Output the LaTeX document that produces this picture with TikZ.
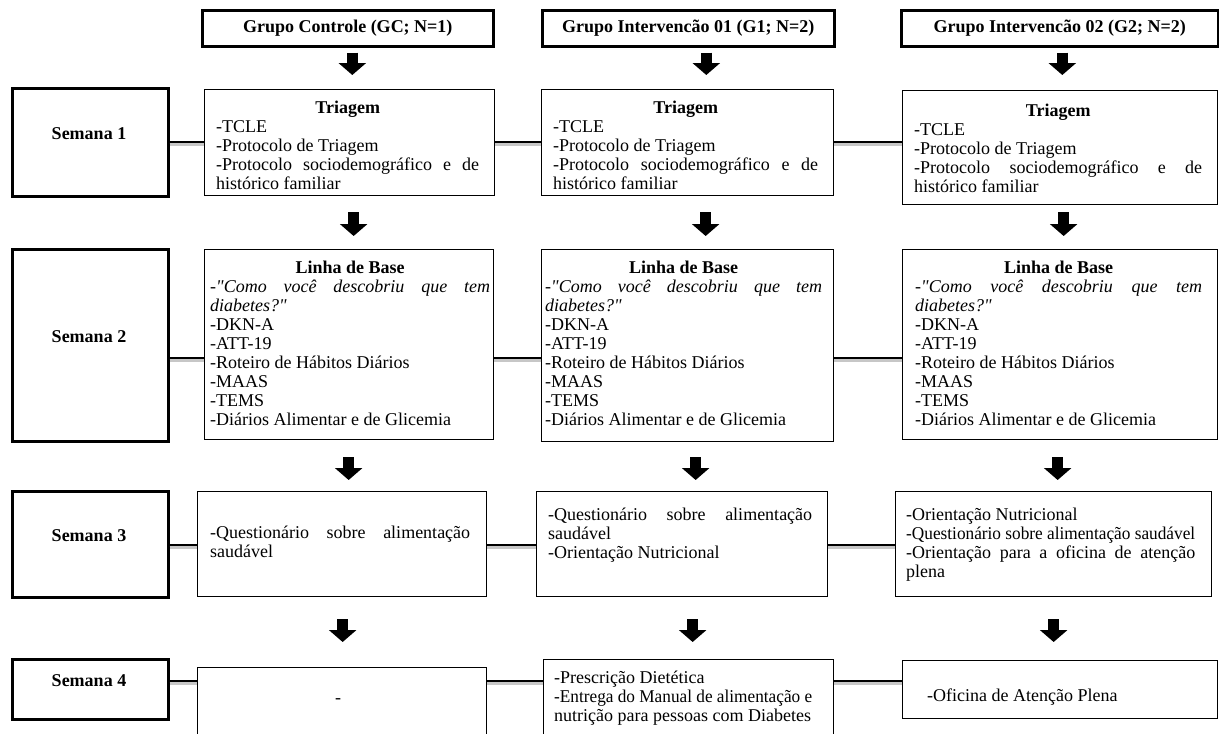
\documentclass[tikz,border=0pt]{standalone}
\usepackage{fontspec}
\usepackage{graphicx}
\setmainfont{Liberation Serif}
\newfontfamily\qfam{Liberation Serif}
\newcommand\dq{{\qfam\itshape"}}
\usetikzlibrary{arrows.meta,calc}
\newsavebox\jlbox
\newcommand\jline[1]{\sbox\jlbox{#1}\ifdim\wd\jlbox>\linewidth\resizebox{\linewidth}{\height}{#1}\else\makebox[\linewidth][s]{#1}\fi\par}
\newcommand\nline[1]{\sbox\jlbox{#1}\ifdim\wd\jlbox>\linewidth\resizebox{\linewidth}{\height}{#1}\else\mbox{#1}\fi\par}
\newcommand\ttl[1]{{\centering\textbf{#1}\par}}
\tikzset{
  hbox/.style={draw, line width=2.6pt, inner sep=0pt, anchor=north west, font=\bfseries\fontsize{18}{19}\selectfont},
  wbox/.style={draw, line width=2.6pt, inner sep=0pt, anchor=north west},
  cbox/.style={draw, line width=1.3pt, inner sep=0pt, anchor=north west, font=\fontsize{18}{19}\selectfont},
  txt/.style={anchor=base west, inner sep=0pt, font=\fontsize{18}{19}\selectfont},
  wlab/.style={anchor=base, inner sep=0pt, font=\bfseries\fontsize{18}{19}\selectfont},
  barrow/.style={line width=11pt, -{Triangle[width=27pt,length=12pt]}},
  conn/.style={line width=2.4pt},
  connsh/.style={line width=2.6pt, black!22},
}
\newcommand\link[3]{%
  \draw[connsh] ([yshift=-2.6pt]#1.east |- #3) -- ([yshift=-2.6pt]#2.west |- #3);
  \draw[conn] (#1.east |- #3) -- (#2.west |- #3);}
\newcommand\linha{\ttl{Linha de Base}\jline{-\textit{\dq Como você descobriu que tem}}\nline{\textit{diabetes?\dq}}\nline{-DKN-A}\nline{-ATT-19}\nline{-Roteiro de Hábitos Diários}\nline{-MAAS}\nline{-TEMS}\nline{-Diários Alimentar e de Glicemia}}
\newcommand\triag{\ttl{Triagem}\nline{-TCLE}\nline{-Protocolo de Triagem}\jline{-Protocolo sociodemográfico e de}\nline{histórico familiar}}
\begin{document}
\begin{tikzpicture}[x=1pt,y=-1pt]
\useasboundingbox (0,0) rectangle (1219,734);
\clip (0,0) rectangle (1219,734);
\fill[white] (0,0) rectangle (1219,734);
% headers
\node[hbox, minimum width=291pt, minimum height=36pt] (hgc) at (201,9) {Grupo Controle (GC; N=1)};
\node[hbox, minimum width=292pt, minimum height=36pt] (hg1) at (541,9) {Grupo Intervencão 01 (G1; N=2)};
\node[hbox, minimum width=317pt, minimum height=36pt] (hg2) at (900,9) {Grupo Intervencão 02 (G2; N=2)};
% week boxes
\node[wbox, minimum width=156pt, minimum height=108pt] (s1) at (11,87) {};
\node[wbox, minimum width=156pt, minimum height=192pt] (s2) at (11,248) {};
\node[wbox, minimum width=156pt, minimum height=106pt] (s3) at (11,490) {};
\node[wbox, minimum width=156pt, minimum height=60pt] (s4) at (11,658) {};
\node[wlab] (s1t) at (89,139) {Semana 1};
\node[wlab] (s2t) at (89,342) {Semana 2};
\node[wlab] (s3t) at (89,541) {Semana 3};
\node[wlab] (s4t) at (89,686) {Semana 4};
% row 1
\node[cbox, minimum width=290pt, minimum height=106pt] (gc1) at (204,89) {};
\node[cbox, minimum width=292pt, minimum height=106pt] (g1a) at (541,89) {};
\node[cbox, minimum width=315pt, minimum height=114pt] (g2a) at (902,90) {};
\node[txt] (gc1t) at (216,113) {\parbox[t]{263pt}{\raggedright\triag}};
\node[txt] (g1at) at (553,113) {\parbox[t]{265pt}{\raggedright\triag}};
\node[txt] (g2at) at (914,116) {\parbox[t]{288pt}{\raggedright\triag}};
% row 2
\node[cbox, minimum width=289pt, minimum height=190pt] (gc2) at (204,249) {};
\node[cbox, minimum width=292pt, minimum height=192pt] (g1b) at (541,249) {};
\node[cbox, minimum width=315pt, minimum height=190pt] (g2b) at (902,249) {};
\node[txt] (gc2t) at (210,273) {\parbox[t]{280pt}{\raggedright\linha}};
\node[txt] (g1bt) at (545,273) {\parbox[t]{277pt}{\raggedright\linha}};
\node[txt] (g2bt) at (915,273) {\parbox[t]{287pt}{\raggedright\linha}};
% row 3
\node[cbox, minimum width=289pt, minimum height=105pt] (gc3) at (197,491) {};
\node[cbox, minimum width=291pt, minimum height=105pt] (g1c) at (536,491) {};
\node[cbox, minimum width=316pt, minimum height=105pt] (g2c) at (895,491) {};
\node[txt] (gc3t) at (210,538) {\parbox[t]{260pt}{\raggedright\jline{-Questionário sobre alimentação}\nline{saudável}}};
\node[txt] (g1ct) at (548,520) {\parbox[t]{264pt}{\raggedright\jline{-Questionário sobre alimentação}\nline{saudável}\nline{-Orientação Nutricional}}};
\node[txt] (g2ct) at (906,520) {\parbox[t]{289pt}{\raggedright\nline{-Orientação Nutricional}\jline{-Questionário sobre alimentação saudável}\jline{-Orientação para a oficina de atenção}\nline{plena}}};
% row 4
\node[cbox, minimum width=289pt, minimum height=80pt] (gc4) at (197,667) {};
\node[cbox, minimum width=290pt, minimum height=88pt] (g1d) at (543,659) {};
\node[cbox, minimum width=315pt, minimum height=58pt] (g2d) at (902,660) {};
\node[txt, anchor=base] (gc4t) at (338,703) {-};
\node[txt] (g1dt) at (554,683) {\parbox[t]{258pt}{\raggedright\nline{-Prescrição Dietética}\nline{-Entrega do Manual de alimentação e}\nline{nutrição para pessoas com Diabetes}}};
\node[txt] (g2dt) at (927,701) {-Oficina de Atenção Plena};
% horizontal connectors
\coordinate (r1) at (0,142);
\coordinate (r2) at (0,358);
\coordinate (r3) at (0,545);
\coordinate (r4) at (0,681);
\link{s1}{gc1}{r1}\link{gc1}{g1a}{r1}\link{g1a}{g2a}{r1}
\link{s2}{gc2}{r2}\link{gc2}{g1b}{r2}\link{g1b}{g2b}{r2}
\link{s3}{gc3}{r3}\link{gc3}{g1c}{r3}\link{g1c}{g2c}{r3}
\link{s4}{gc4}{r4}\link{gc4}{g1d}{r4}\link{g1d}{g2d}{r4}
% block arrows
\draw[barrow, shorten <=5pt, shorten >=14pt] ([xshift=4.5pt]hgc.south) -- ([xshift=4.5pt]hgc.south |- gc1.north);
\draw[barrow, shorten <=5pt, shorten >=14pt] ([xshift=18pt]hg1.south) -- ([xshift=18pt]hg1.south |- g1a.north);
\draw[barrow, shorten <=5pt, shorten >=15pt] ([xshift=2.5pt]hg2.south) -- ([xshift=2.5pt]hg2.south |- g2a.north);
\draw[barrow, shorten <=16pt, shorten >=13pt] ([xshift=4pt]gc1.south) -- ([xshift=4pt]gc1.south |- gc2.north);
\draw[barrow, shorten <=16pt, shorten >=13pt] ([xshift=18pt]g1a.south) -- ([xshift=18pt]g1a.south |- g1b.north);
\draw[barrow, shorten <=7pt, shorten >=13pt] ([xshift=3.5pt]g2a.south) -- ([xshift=3.5pt]g2a.south |- g2b.north);
\draw[barrow, shorten <=17pt, shorten >=11pt] ([xshift=-0.5pt]gc2.south) -- ([xshift=-0.5pt]gc2.south |- gc3.north);
\draw[barrow, shorten <=15pt, shorten >=11pt] ([xshift=8pt]g1b.south) -- ([xshift=8pt]g1b.south |- g1c.north);
\draw[barrow, shorten <=17pt, shorten >=11pt] ([xshift=-2.5pt]g2b.south) -- ([xshift=-2.5pt]g2b.south |- g2c.north);
\draw[barrow, shorten <=22pt, shorten >=25pt] ([xshift=0.5pt]gc3.south) -- ([xshift=0.5pt]gc3.south |- gc4.north);
\draw[barrow, shorten <=22pt, shorten >=17pt] ([xshift=10.5pt]g1c.south) -- ([xshift=10.5pt]g1c.south |- g1d.north);
\draw[barrow, shorten <=22pt, shorten >=18pt] (g2c.south) -- (g2c.south |- g2d.north);
\end{tikzpicture}
\end{document}
